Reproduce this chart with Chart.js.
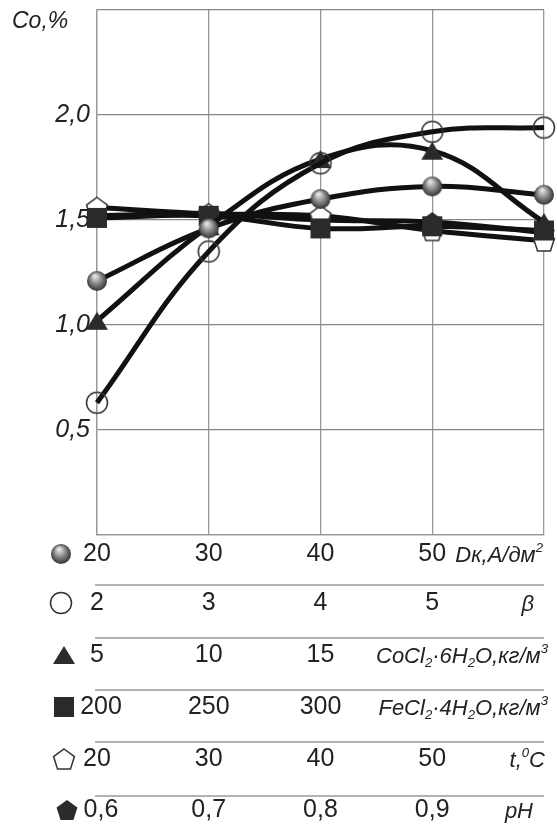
<!DOCTYPE html>
<html>
<head>
<meta charset="utf-8">
<script src="https://cdn.jsdelivr.net/npm/chart.js@4"></script>
<style>
  html, body { margin: 0; padding: 0; background: #fff; }
  canvas { display: block; }
</style>
</head>
<body>
<canvas id="chart" width="557" height="830"></canvas>
<script>
// Co content vs. six process parameters (shared abscissa positions)
const positions = ['20', '30', '40', '50', ''];

// tick labels of the six stacked scales under the plot
const dkTicks = ['20', '30', '40', '50'];
const betaTicks = ['2', '3', '4', '5'];
const cocl2Ticks = ['5', '10', '15'];
const fecl2Ticks = ['200', '250', '300'];
const tempTicks = ['20', '30', '40', '50'];
const phTicks = ['0,6', '0,7', '0,8', '0,9'];

// Co, %
const coDk = [1.21, 1.46, 1.60, 1.66, 1.62];
const coBeta = [0.63, 1.35, 1.77, 1.92, 1.94];
const coCocl2 = [1.02, 1.47, 1.79, 1.83, 1.49];
const coFecl2 = [1.51, 1.52, 1.46, 1.47, 1.45];
const coTemp = [1.56, 1.53, 1.52, 1.45, 1.40];
const coPh = [1.52, 1.53, 1.50, 1.49, 1.44];

const yTicks = [0.5, 1.0, 1.5, 2.0];

const FONT = '"Liberation Sans", Arial, sans-serif';
const DARK = '#2b2b2b';

// marker images, used both on the curves and in the scale rows
function makeMarker(kind) {
  const c = document.createElement('canvas');
  c.width = c.height = 26;
  const g = c.getContext('2d');
  const m = 13;
  if (kind === 'sphere') {
    const grad = g.createRadialGradient(m - 2, m - 5, 1, m, m, 11);
    grad.addColorStop(0, '#e4e4e4');
    grad.addColorStop(0.45, '#8c8c8c');
    grad.addColorStop(1, '#262626');
    g.fillStyle = grad;
    g.beginPath(); g.arc(m, m, 10, 0, Math.PI * 2); g.fill();
  } else if (kind === 'circle') {
    g.strokeStyle = '#333'; g.lineWidth = 1.5;
    g.beginPath(); g.arc(m, m, 10.5, 0, Math.PI * 2); g.stroke();
  } else if (kind === 'triangle') {
    g.fillStyle = DARK;
    g.beginPath(); g.moveTo(m, m - 9); g.lineTo(m + 11, m + 9); g.lineTo(m - 11, m + 9); g.closePath(); g.fill();
  } else if (kind === 'square') {
    g.fillStyle = DARK;
    g.fillRect(m - 10, m - 10, 20, 20);
  } else {
    g.beginPath();
    for (let i = 0; i < 5; i++) {
      const a = -Math.PI / 2 + i * 2 * Math.PI / 5;
      const px = m + 11 * Math.cos(a), py = m + 1 + 11 * Math.sin(a);
      i ? g.lineTo(px, py) : g.moveTo(px, py);
    }
    g.closePath();
    if (kind === 'pentagonOpen') {
      g.fillStyle = '#fff'; g.fill();
      g.strokeStyle = '#333'; g.lineWidth = 1.5; g.stroke();
    } else {
      g.fillStyle = DARK; g.fill();
    }
  }
  return c;
}

const markers = {
  sphere: makeMarker('sphere'),
  circle: makeMarker('circle'),
  triangle: makeMarker('triangle'),
  square: makeMarker('square'),
  pentagonOpen: makeMarker('pentagonOpen'),
  pentagon: makeMarker('pentagon')
};

function series(values, marker) {
  return {
    data: values,
    borderColor: '#111',
    borderWidth: 5,
    tension: 0.4,
    pointStyle: markers[marker],
    pointRadius: 10,
    clip: false
  };
}

// text with sub/superscripts: [text, 'sub'|'sup'|undefined]
function richWidth(ctx, parts, size) {
  let w = 0;
  parts.forEach(([t, k]) => {
    ctx.font = 'italic ' + (k ? size * 0.6 : size) + 'px ' + FONT;
    w += ctx.measureText(t).width;
  });
  return w;
}
function drawRich(ctx, parts, right, y, size) {
  let x = right - richWidth(ctx, parts, size);
  ctx.textAlign = 'left';
  ctx.textBaseline = 'alphabetic';
  parts.forEach(([t, k]) => {
    const s = k ? size * 0.6 : size;
    ctx.font = 'italic ' + s + 'px ' + FONT;
    const dy = k === 'sup' ? -size * 0.45 : k === 'sub' ? size * 0.2 : 0;
    ctx.fillText(t, x, y + dy);
    x += ctx.measureText(t).width;
  });
}

const rows = [
  { ticks: dkTicks, marker: 'sphere', mx: 61, y: 554, unit: [['Dк,А/дм'], ['2', 'sup']], ur: 543 },
  { ticks: betaTicks, marker: 'circle', mx: 61, y: 603, unit: [['β']], ur: 534 },
  { ticks: cocl2Ticks, marker: 'triangle', mx: 64, y: 655, unit: [['CoCl'], ['2', 'sub'], ['·6H'], ['2', 'sub'], ['O,кг/м'], ['3', 'sup']], ur: 548 },
  { ticks: fecl2Ticks, marker: 'square', mx: 64, y: 707, unit: [['FeCl'], ['2', 'sub'], ['·4H'], ['2', 'sub'], ['O,кг/м'], ['3', 'sup']], ur: 548 },
  { ticks: tempTicks, marker: 'pentagonOpen', mx: 64, y: 759, unit: [['t,'], ['0', 'sup'], ['C']], ur: 545 },
  { ticks: phTicks, marker: 'pentagon', mx: 67, y: 810, unit: [['pH']], ur: 533 }
];
const separators = [585, 638, 690, 742, 796];

const scaleRows = {
  id: 'scaleRows',
  afterDraw(chart) {
    const ctx = chart.ctx;
    const x = chart.scales.x;
    ctx.save();
    ctx.fillStyle = '#222';
    ctx.font = 'italic 23px ' + FONT;
    ctx.textAlign = 'left';
    ctx.textBaseline = 'middle';
    ctx.fillText('Co,%', 12, 22);

    ctx.strokeStyle = '#999';
    ctx.lineWidth = 1.5;
    separators.forEach(sy => {
      ctx.beginPath(); ctx.moveTo(95, sy); ctx.lineTo(x.right, sy); ctx.stroke();
    });

    rows.forEach(r => {
      const img = markers[r.marker];
      ctx.drawImage(img, r.mx - img.width / 2, r.y - img.height / 2);
      ctx.fillStyle = '#222';
      ctx.font = '25px ' + FONT;
      ctx.textAlign = 'center';
      ctx.textBaseline = 'middle';
      r.ticks.forEach((t, i) => {
        ctx.fillText(t, x.getPixelForValue(i) + (i === 0 && t.length > 2 ? 4 : 0), r.y);
      });
      drawRich(ctx, r.unit, r.ur, r.y + 8, 22);
    });
    ctx.restore();
  }
};

new Chart(document.getElementById('chart'), {
  type: 'line',
  data: {
    labels: positions,
    datasets: [
      series(coDk, 'sphere'),
      series(coBeta, 'circle'),
      series(coCocl2, 'triangle'),
      series(coFecl2, 'square'),
      series(coTemp, 'pentagonOpen'),
      series(coPh, 'pentagon')
    ]
  },
  options: {
    responsive: false,
    animation: false,
    layout: { autoPadding: false, padding: { top: 10, right: 13, left: 0, bottom: 0 } },
    plugins: { legend: { display: false }, tooltip: { enabled: false } },
    scales: {
      x: {
        grid: { color: '#999', lineWidth: 1.3, drawTicks: false },
        border: { color: '#999', width: 1.3 },
        ticks: { display: false },
        afterFit(s) { s.height = 295; s.paddingLeft = 0; s.paddingRight = 0; }
      },
      y: {
        min: 0,
        max: 2.5,
        grid: { color: '#888', lineWidth: 1.3, drawTicks: false },
        border: { color: '#999', width: 1.3 },
        ticks: {
          stepSize: 0.5,
          padding: 7,
          color: '#222',
          font: { family: FONT, size: 25, style: 'italic', lineHeight: 0.7 },
          callback: v => yTicks.includes(v) ? v.toFixed(1).replace('.', ',') : ''
        },
        afterFit(s) { s.width = 97; s.paddingTop = 0; s.paddingBottom = 0; }
      }
    }
  },
  plugins: [scaleRows]
});
</script>
</body>
</html>
